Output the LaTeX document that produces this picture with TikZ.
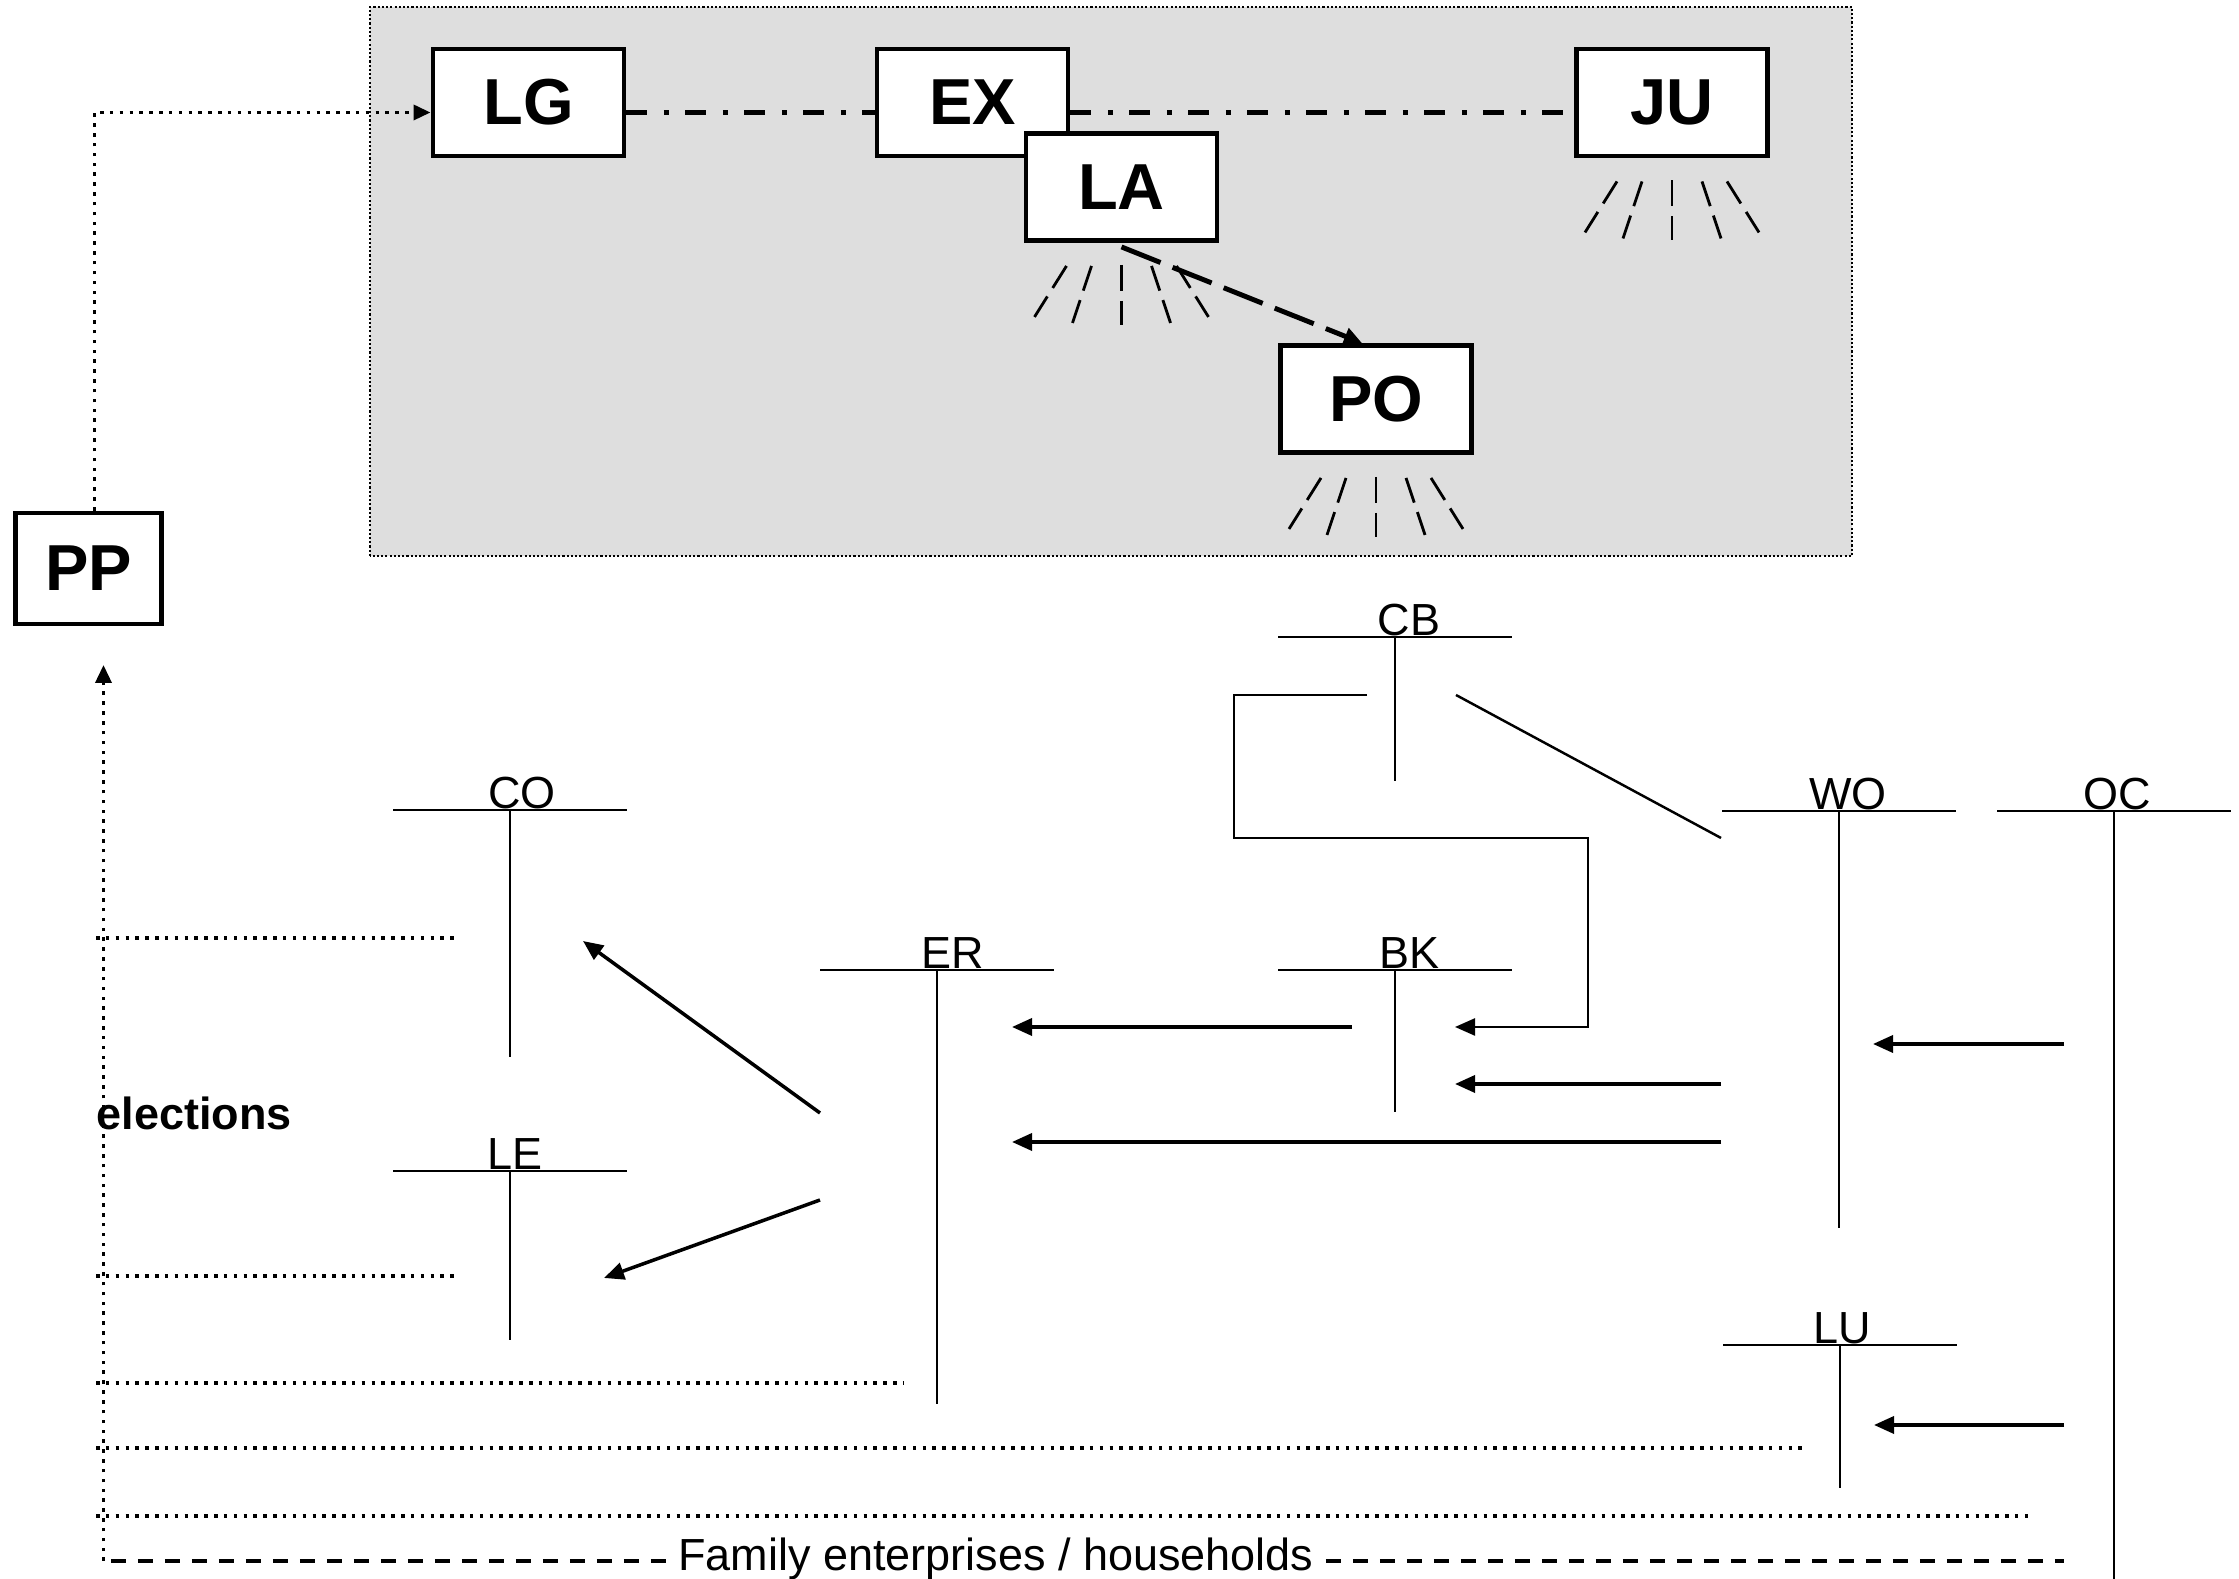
\documentclass[tikz,border=0pt]{standalone}
\usepackage{fontspec}
\setmainfont{Liberation Sans}
\usetikzlibrary{positioning, arrows.meta, shapes}
\definecolor{panelgray}{RGB}{222,222,222}

\newcommand{\lamprays}[1]{%
  \foreach \ax/\ay/\bx/\by in {-0.55/-0.23/-0.87/-0.74, -0.30/-0.23/-0.49/-0.80, 0/-0.22/0/-0.82, 0.30/-0.23/0.49/-0.80, 0.55/-0.23/0.87/-0.74}
    \draw[ray] ([shift={(\ax,\ay)}]#1.south) -- ([shift={(\bx,\by)}]#1.south);}
\newcommand{\account}[6]{%
  \coordinate (#1) at (#2,#3);
  \draw[acct] ([xshift=-1.17cm]#1) -- ([xshift=1.17cm]#1);
  \draw[acct] (#1) -- ++(0,-#4);
  \node[anchor=base] (#1l) at ([shift={(#6,0.01)}]#1) {#5};}

\begin{document}
\begin{tikzpicture}[every node/.style={font=\fontsize{12.8}{15}\selectfont, inner sep=0pt},
  box/.style={draw, line width=1.4pt, fill=white, minimum width=1.91cm, minimum height=1.07cm, font=\fontsize{18.5}{22}\selectfont\bfseries},
  acct/.style={line width=0.7pt},
  flow/.style={line width=1pt, -{Triangle[length=0.2cm, width=0.17cm]}},
  elec/.style={line width=1pt, dash pattern=on 1pt off 1.8pt},
  link/.style={line width=1.5pt, dash pattern=on 0.21cm off 0.165cm on 0.05cm off 0.165cm},
  ray/.style={line width=0.8pt, dash pattern=on 0.26cm off 0.1cm},
  famline/.style={line width=1.2pt, dash pattern=on 0.15cm off 0.12cm}]
 \useasboundingbox (0,0) rectangle (22.39,15.79);
 \draw[line width=0.5pt, dash pattern=on 0.6pt off 0.6pt, fill=panelgray] (3.70,10.23) rectangle (18.52,15.72);
 \node[box] (LG) at (5.285,14.765) {LG};
 \node[box] (EX) at (9.725,14.765) {EX};
 \node[box] (LA) at (11.215,13.92) {LA};
 \node[box] (JU) at (16.72,14.765) {JU};
 \node[box] (PO) at (13.76,11.80) {PO};
 \node[box, minimum width=1.46cm, minimum height=1.11cm] (PP) at (0.886,10.105) {PP};
 \lamprays{LA}
 \lamprays{JU}
 \lamprays{PO}
 \draw[link] ([yshift=-0.1cm]LG.east) -- ([yshift=-0.1cm]EX.west);
 \draw[link] ([yshift=-0.1cm]EX.east) -- ([yshift=-0.1cm]JU.west);
 \draw[line width=1.4pt, dash pattern=on 0.42cm off 0.13cm, -{Triangle[length=0.18cm, width=0.17cm]}] ([yshift=-0.04cm]LA.south) -- ([xshift=-0.14cm]PO.north);
 \draw[elec, -{Triangle[length=0.17cm, width=0.15cm]}] ([xshift=0.06cm]PP.north) |- ([yshift=-0.1cm]LG.west);

 \account{CO}{5.10}{7.69}{2.47}{CO}{0.12}
 \account{LE}{5.10}{4.08}{1.69}{LE}{0.05}
 \account{ER}{9.37}{6.09}{4.34}{ER}{0.16}
 \account{BK}{13.95}{6.09}{1.42}{BK}{0.14}
 \account{CB}{13.95}{9.42}{1.44}{CB}{0.14}
 \account{WO}{18.39}{7.68}{4.17}{WO}{0.09}
 \account{OC}{21.14}{7.68}{7.68}{OC}{0.03}
 \account{LU}{18.40}{2.34}{1.43}{LU}{0.02}

 \coordinate (er1) at (8.20,4.66); \coordinate (co1) at (5.83,6.38);
 \draw[flow] (er1) -- (co1);
 \coordinate (er2) at (8.20,3.79); \coordinate (le1) at (6.04,3.01);
 \draw[flow] (er2) -- (le1);
 \coordinate (bk1) at (13.52,5.52); \coordinate (er3) at (10.12,5.52);
 \draw[flow] (bk1) -- (er3);
 \coordinate (cb1) at (13.67,8.84); \coordinate (bk2) at (14.55,5.52);
 \draw[flow, line width=0.7pt] (cb1) -- (12.34,8.84) -- (12.34,7.41) -- (15.88,7.41) |- (bk2);
 \coordinate (cb2) at (14.56,8.84); \coordinate (wo1) at (17.21,7.41);
 \draw[acct] (cb2) -- (wo1);
 \coordinate (wo2) at (17.21,4.95); \coordinate (bk3) at (14.55,4.95);
 \draw[flow] (wo2) -- (bk3);
 \coordinate (wo3) at (17.21,4.37); \coordinate (er4) at (10.12,4.37);
 \draw[flow] (wo3) -- (er4);
 \coordinate (oc1) at (20.64,5.35); \coordinate (wo4) at (18.73,5.35);
 \draw[flow] (oc1) -- (wo4);
 \coordinate (oc2) at (20.64,1.54); \coordinate (lu1) at (18.74,1.54);
 \draw[flow] (oc2) -- (lu1);

 \coordinate (vote) at (1.035,9.14);
 \draw[elec, -{Triangle[length=0.18cm, width=0.16cm]}] (1.035,0.18) -- (vote);
 \foreach \y/\xe in {6.41/4.57, 3.03/4.57, 1.96/9.03, 1.31/18.07, 0.63/20.31}
   \draw[elec] (0.96,\y) -- (\xe,\y);
 \node[anchor=base west, font=\fontsize{12.8}{15}\selectfont\bfseries] (elect) at (0.96,4.49) {elections};
 \draw[famline] (1.11,0.18) -- (20.64,0.18);
 \node[fill=white, inner sep=1.5pt, anchor=base] (fam) at (9.96,0.08) {Family enterprises / households};
\end{tikzpicture}
\end{document}
